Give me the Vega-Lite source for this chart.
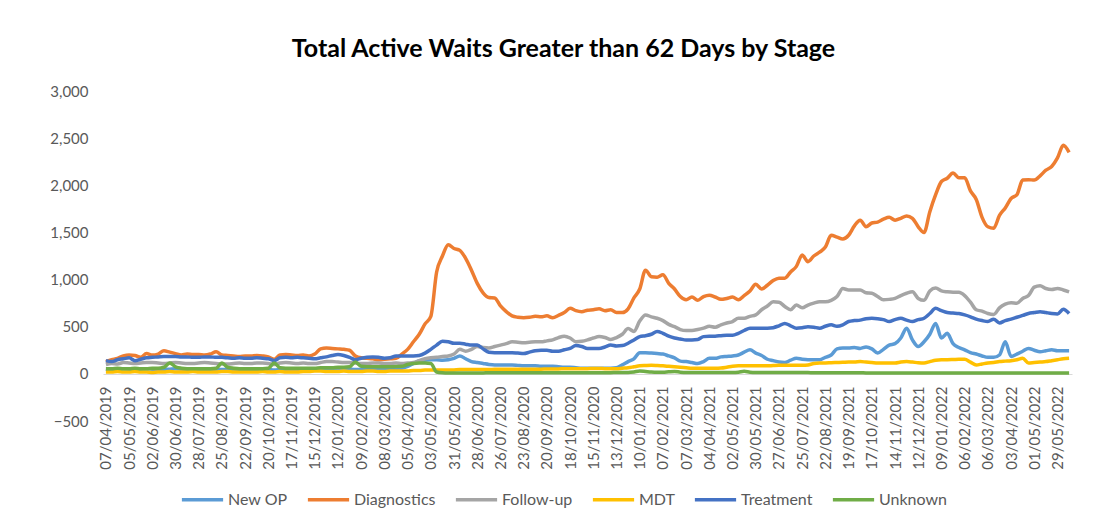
{
"$schema": "https://vega.github.io/schema/vega-lite/v6.json",
"width": 969, "height": 330,
"autosize": {"type": "none"},
"padding": {"left": 103, "top": 91, "right": 39, "bottom": 108},
"background": "white",
"title": {"text": "Total Active Waits Greater than 62 Days by Stage", "font": "Lato", "fontSize": 25, "fontWeight": "bold", "color": "#000000", "anchor": "middle", "offset": 22, "dx": -24},
"data": {"values": [
{"d":"07/04/2019","New OP":50,"Diagnostics":130,"Follow-up":100,"MDT":20,"Treatment":140,"Unknown":55},
{"d":"14/04/2019","New OP":45,"Diagnostics":150,"Follow-up":110,"MDT":20,"Treatment":130,"Unknown":55},
{"d":"21/04/2019","New OP":50,"Diagnostics":165,"Follow-up":105,"MDT":25,"Treatment":150,"Unknown":60},
{"d":"28/04/2019","New OP":55,"Diagnostics":190,"Follow-up":120,"MDT":20,"Treatment":160,"Unknown":55},
{"d":"05/05/2019","New OP":50,"Diagnostics":200,"Follow-up":115,"MDT":20,"Treatment":170,"Unknown":55},
{"d":"12/05/2019","New OP":45,"Diagnostics":195,"Follow-up":110,"MDT":25,"Treatment":140,"Unknown":60},
{"d":"19/05/2019","New OP":50,"Diagnostics":175,"Follow-up":115,"MDT":20,"Treatment":155,"Unknown":55},
{"d":"26/05/2019","New OP":55,"Diagnostics":215,"Follow-up":120,"MDT":20,"Treatment":170,"Unknown":55},
{"d":"02/06/2019","New OP":50,"Diagnostics":200,"Follow-up":120,"MDT":15,"Treatment":175,"Unknown":60},
{"d":"09/06/2019","New OP":45,"Diagnostics":210,"Follow-up":115,"MDT":20,"Treatment":180,"Unknown":60},
{"d":"16/06/2019","New OP":45,"Diagnostics":245,"Follow-up":110,"MDT":20,"Treatment":185,"Unknown":70},
{"d":"23/06/2019","New OP":50,"Diagnostics":230,"Follow-up":115,"MDT":25,"Treatment":185,"Unknown":115},
{"d":"30/06/2019","New OP":55,"Diagnostics":215,"Follow-up":120,"MDT":20,"Treatment":185,"Unknown":75},
{"d":"07/07/2019","New OP":50,"Diagnostics":200,"Follow-up":115,"MDT":20,"Treatment":180,"Unknown":60},
{"d":"14/07/2019","New OP":45,"Diagnostics":210,"Follow-up":110,"MDT":20,"Treatment":180,"Unknown":55},
{"d":"21/07/2019","New OP":45,"Diagnostics":205,"Follow-up":110,"MDT":25,"Treatment":175,"Unknown":55},
{"d":"28/07/2019","New OP":50,"Diagnostics":205,"Follow-up":115,"MDT":20,"Treatment":175,"Unknown":55},
{"d":"04/08/2019","New OP":50,"Diagnostics":200,"Follow-up":120,"MDT":20,"Treatment":180,"Unknown":55},
{"d":"11/08/2019","New OP":45,"Diagnostics":210,"Follow-up":115,"MDT":20,"Treatment":180,"Unknown":55},
{"d":"18/08/2019","New OP":45,"Diagnostics":235,"Follow-up":110,"MDT":20,"Treatment":175,"Unknown":60},
{"d":"25/08/2019","New OP":45,"Diagnostics":200,"Follow-up":105,"MDT":25,"Treatment":175,"Unknown":115},
{"d":"01/09/2019","New OP":50,"Diagnostics":195,"Follow-up":105,"MDT":25,"Treatment":170,"Unknown":70},
{"d":"08/09/2019","New OP":50,"Diagnostics":190,"Follow-up":110,"MDT":20,"Treatment":165,"Unknown":60},
{"d":"15/09/2019","New OP":45,"Diagnostics":185,"Follow-up":115,"MDT":20,"Treatment":170,"Unknown":55},
{"d":"22/09/2019","New OP":45,"Diagnostics":190,"Follow-up":110,"MDT":20,"Treatment":165,"Unknown":55},
{"d":"29/09/2019","New OP":50,"Diagnostics":190,"Follow-up":110,"MDT":20,"Treatment":165,"Unknown":55},
{"d":"06/10/2019","New OP":50,"Diagnostics":195,"Follow-up":115,"MDT":20,"Treatment":170,"Unknown":55},
{"d":"13/10/2019","New OP":45,"Diagnostics":190,"Follow-up":115,"MDT":25,"Treatment":165,"Unknown":55},
{"d":"20/10/2019","New OP":45,"Diagnostics":180,"Follow-up":110,"MDT":20,"Treatment":160,"Unknown":60},
{"d":"27/10/2019","New OP":40,"Diagnostics":155,"Follow-up":100,"MDT":20,"Treatment":140,"Unknown":115},
{"d":"03/11/2019","New OP":45,"Diagnostics":200,"Follow-up":115,"MDT":25,"Treatment":170,"Unknown":65},
{"d":"10/11/2019","New OP":50,"Diagnostics":205,"Follow-up":120,"MDT":20,"Treatment":175,"Unknown":60},
{"d":"17/11/2019","New OP":50,"Diagnostics":200,"Follow-up":115,"MDT":20,"Treatment":170,"Unknown":60},
{"d":"24/11/2019","New OP":45,"Diagnostics":195,"Follow-up":110,"MDT":20,"Treatment":175,"Unknown":60},
{"d":"01/12/2019","New OP":45,"Diagnostics":200,"Follow-up":115,"MDT":25,"Treatment":170,"Unknown":60},
{"d":"08/12/2019","New OP":50,"Diagnostics":190,"Follow-up":110,"MDT":25,"Treatment":165,"Unknown":60},
{"d":"15/12/2019","New OP":50,"Diagnostics":210,"Follow-up":110,"MDT":30,"Treatment":160,"Unknown":60},
{"d":"22/12/2019","New OP":55,"Diagnostics":265,"Follow-up":120,"MDT":30,"Treatment":170,"Unknown":65},
{"d":"29/12/2019","New OP":60,"Diagnostics":275,"Follow-up":130,"MDT":25,"Treatment":180,"Unknown":65},
{"d":"05/01/2020","New OP":60,"Diagnostics":270,"Follow-up":130,"MDT":25,"Treatment":195,"Unknown":65},
{"d":"12/01/2020","New OP":55,"Diagnostics":265,"Follow-up":125,"MDT":25,"Treatment":205,"Unknown":70},
{"d":"19/01/2020","New OP":55,"Diagnostics":260,"Follow-up":120,"MDT":30,"Treatment":195,"Unknown":70},
{"d":"26/01/2020","New OP":50,"Diagnostics":250,"Follow-up":120,"MDT":25,"Treatment":175,"Unknown":75},
{"d":"02/02/2020","New OP":45,"Diagnostics":190,"Follow-up":115,"MDT":25,"Treatment":150,"Unknown":125},
{"d":"09/02/2020","New OP":45,"Diagnostics":170,"Follow-up":110,"MDT":25,"Treatment":165,"Unknown":80},
{"d":"16/02/2020","New OP":50,"Diagnostics":165,"Follow-up":110,"MDT":30,"Treatment":175,"Unknown":75},
{"d":"23/02/2020","New OP":50,"Diagnostics":160,"Follow-up":115,"MDT":30,"Treatment":180,"Unknown":75},
{"d":"01/03/2020","New OP":45,"Diagnostics":150,"Follow-up":115,"MDT":25,"Treatment":175,"Unknown":75},
{"d":"08/03/2020","New OP":50,"Diagnostics":155,"Follow-up":110,"MDT":25,"Treatment":165,"Unknown":75},
{"d":"15/03/2020","New OP":55,"Diagnostics":160,"Follow-up":110,"MDT":30,"Treatment":170,"Unknown":75},
{"d":"22/03/2020","New OP":55,"Diagnostics":165,"Follow-up":115,"MDT":30,"Treatment":190,"Unknown":78},
{"d":"29/03/2020","New OP":60,"Diagnostics":210,"Follow-up":110,"MDT":30,"Treatment":190,"Unknown":80},
{"d":"05/04/2020","New OP":80,"Diagnostics":260,"Follow-up":115,"MDT":30,"Treatment":190,"Unknown":100},
{"d":"12/04/2020","New OP":110,"Diagnostics":340,"Follow-up":120,"MDT":35,"Treatment":190,"Unknown":110},
{"d":"19/04/2020","New OP":140,"Diagnostics":420,"Follow-up":140,"MDT":35,"Treatment":195,"Unknown":115},
{"d":"26/04/2020","New OP":145,"Diagnostics":530,"Follow-up":160,"MDT":40,"Treatment":220,"Unknown":115},
{"d":"03/05/2020","New OP":150,"Diagnostics":610,"Follow-up":170,"MDT":42,"Treatment":260,"Unknown":110},
{"d":"10/05/2020","New OP":150,"Diagnostics":1080,"Follow-up":175,"MDT":42,"Treatment":305,"Unknown":20},
{"d":"17/05/2020","New OP":145,"Diagnostics":1250,"Follow-up":185,"MDT":40,"Treatment":345,"Unknown":12},
{"d":"24/05/2020","New OP":150,"Diagnostics":1370,"Follow-up":190,"MDT":40,"Treatment":340,"Unknown":10},
{"d":"31/05/2020","New OP":165,"Diagnostics":1330,"Follow-up":210,"MDT":42,"Treatment":325,"Unknown":10},
{"d":"07/06/2020","New OP":190,"Diagnostics":1310,"Follow-up":260,"MDT":45,"Treatment":325,"Unknown":10},
{"d":"14/06/2020","New OP":160,"Diagnostics":1225,"Follow-up":240,"MDT":45,"Treatment":315,"Unknown":10},
{"d":"21/06/2020","New OP":130,"Diagnostics":1100,"Follow-up":260,"MDT":45,"Treatment":305,"Unknown":10},
{"d":"28/06/2020","New OP":120,"Diagnostics":960,"Follow-up":290,"MDT":45,"Treatment":305,"Unknown":10},
{"d":"05/07/2020","New OP":110,"Diagnostics":860,"Follow-up":280,"MDT":45,"Treatment":265,"Unknown":10},
{"d":"12/07/2020","New OP":100,"Diagnostics":810,"Follow-up":275,"MDT":45,"Treatment":230,"Unknown":12},
{"d":"19/07/2020","New OP":95,"Diagnostics":805,"Follow-up":290,"MDT":48,"Treatment":225,"Unknown":12},
{"d":"26/07/2020","New OP":95,"Diagnostics":720,"Follow-up":305,"MDT":48,"Treatment":225,"Unknown":12},
{"d":"02/08/2020","New OP":95,"Diagnostics":660,"Follow-up":320,"MDT":48,"Treatment":225,"Unknown":12},
{"d":"09/08/2020","New OP":95,"Diagnostics":615,"Follow-up":340,"MDT":50,"Treatment":225,"Unknown":12},
{"d":"16/08/2020","New OP":90,"Diagnostics":600,"Follow-up":335,"MDT":50,"Treatment":220,"Unknown":12},
{"d":"23/08/2020","New OP":85,"Diagnostics":595,"Follow-up":330,"MDT":50,"Treatment":215,"Unknown":12},
{"d":"30/08/2020","New OP":85,"Diagnostics":600,"Follow-up":335,"MDT":50,"Treatment":230,"Unknown":12},
{"d":"06/09/2020","New OP":85,"Diagnostics":610,"Follow-up":340,"MDT":50,"Treatment":245,"Unknown":12},
{"d":"13/09/2020","New OP":80,"Diagnostics":605,"Follow-up":340,"MDT":50,"Treatment":250,"Unknown":12},
{"d":"20/09/2020","New OP":80,"Diagnostics":615,"Follow-up":350,"MDT":52,"Treatment":250,"Unknown":12},
{"d":"27/09/2020","New OP":80,"Diagnostics":595,"Follow-up":360,"MDT":52,"Treatment":240,"Unknown":12},
{"d":"04/10/2020","New OP":75,"Diagnostics":620,"Follow-up":385,"MDT":52,"Treatment":240,"Unknown":12},
{"d":"11/10/2020","New OP":70,"Diagnostics":650,"Follow-up":400,"MDT":55,"Treatment":255,"Unknown":12},
{"d":"18/10/2020","New OP":70,"Diagnostics":695,"Follow-up":380,"MDT":55,"Treatment":270,"Unknown":12},
{"d":"25/10/2020","New OP":65,"Diagnostics":670,"Follow-up":340,"MDT":55,"Treatment":300,"Unknown":12},
{"d":"01/11/2020","New OP":60,"Diagnostics":660,"Follow-up":345,"MDT":55,"Treatment":290,"Unknown":12},
{"d":"08/11/2020","New OP":60,"Diagnostics":675,"Follow-up":360,"MDT":55,"Treatment":270,"Unknown":12},
{"d":"15/11/2020","New OP":60,"Diagnostics":680,"Follow-up":380,"MDT":58,"Treatment":270,"Unknown":12},
{"d":"22/11/2020","New OP":60,"Diagnostics":690,"Follow-up":395,"MDT":58,"Treatment":270,"Unknown":12},
{"d":"29/11/2020","New OP":60,"Diagnostics":670,"Follow-up":385,"MDT":55,"Treatment":285,"Unknown":12},
{"d":"06/12/2020","New OP":60,"Diagnostics":680,"Follow-up":365,"MDT":55,"Treatment":305,"Unknown":12},
{"d":"13/12/2020","New OP":65,"Diagnostics":650,"Follow-up":385,"MDT":55,"Treatment":295,"Unknown":15},
{"d":"20/12/2020","New OP":95,"Diagnostics":650,"Follow-up":420,"MDT":60,"Treatment":300,"Unknown":15},
{"d":"27/12/2020","New OP":130,"Diagnostics":690,"Follow-up":480,"MDT":65,"Treatment":325,"Unknown":15},
{"d":"03/01/2021","New OP":160,"Diagnostics":805,"Follow-up":450,"MDT":75,"Treatment":360,"Unknown":20},
{"d":"10/01/2021","New OP":225,"Diagnostics":900,"Follow-up":560,"MDT":85,"Treatment":395,"Unknown":30},
{"d":"17/01/2021","New OP":225,"Diagnostics":1100,"Follow-up":625,"MDT":88,"Treatment":405,"Unknown":25},
{"d":"24/01/2021","New OP":220,"Diagnostics":1030,"Follow-up":605,"MDT":90,"Treatment":420,"Unknown":20},
{"d":"31/01/2021","New OP":215,"Diagnostics":1025,"Follow-up":590,"MDT":88,"Treatment":450,"Unknown":18},
{"d":"07/02/2021","New OP":210,"Diagnostics":1050,"Follow-up":565,"MDT":85,"Treatment":430,"Unknown":18},
{"d":"14/02/2021","New OP":190,"Diagnostics":960,"Follow-up":525,"MDT":80,"Treatment":400,"Unknown":22},
{"d":"21/02/2021","New OP":170,"Diagnostics":900,"Follow-up":500,"MDT":75,"Treatment":380,"Unknown":25},
{"d":"28/02/2021","New OP":135,"Diagnostics":820,"Follow-up":470,"MDT":70,"Treatment":370,"Unknown":18},
{"d":"07/03/2021","New OP":130,"Diagnostics":785,"Follow-up":460,"MDT":65,"Treatment":360,"Unknown":15},
{"d":"14/03/2021","New OP":120,"Diagnostics":815,"Follow-up":460,"MDT":60,"Treatment":360,"Unknown":15},
{"d":"21/03/2021","New OP":110,"Diagnostics":780,"Follow-up":470,"MDT":60,"Treatment":365,"Unknown":15},
{"d":"28/03/2021","New OP":130,"Diagnostics":820,"Follow-up":485,"MDT":60,"Treatment":395,"Unknown":15},
{"d":"04/04/2021","New OP":165,"Diagnostics":835,"Follow-up":505,"MDT":60,"Treatment":400,"Unknown":15},
{"d":"11/04/2021","New OP":165,"Diagnostics":815,"Follow-up":495,"MDT":60,"Treatment":400,"Unknown":15},
{"d":"18/04/2021","New OP":180,"Diagnostics":790,"Follow-up":520,"MDT":62,"Treatment":405,"Unknown":15},
{"d":"25/04/2021","New OP":185,"Diagnostics":800,"Follow-up":540,"MDT":70,"Treatment":410,"Unknown":15},
{"d":"02/05/2021","New OP":190,"Diagnostics":815,"Follow-up":555,"MDT":80,"Treatment":410,"Unknown":15},
{"d":"09/05/2021","New OP":200,"Diagnostics":785,"Follow-up":590,"MDT":85,"Treatment":430,"Unknown":18},
{"d":"16/05/2021","New OP":230,"Diagnostics":830,"Follow-up":590,"MDT":85,"Treatment":460,"Unknown":28},
{"d":"23/05/2021","New OP":255,"Diagnostics":880,"Follow-up":610,"MDT":85,"Treatment":485,"Unknown":18},
{"d":"30/05/2021","New OP":220,"Diagnostics":950,"Follow-up":625,"MDT":85,"Treatment":485,"Unknown":15},
{"d":"06/06/2021","New OP":195,"Diagnostics":900,"Follow-up":680,"MDT":85,"Treatment":485,"Unknown":15},
{"d":"13/06/2021","New OP":155,"Diagnostics":940,"Follow-up":720,"MDT":85,"Treatment":485,"Unknown":15},
{"d":"20/06/2021","New OP":140,"Diagnostics":990,"Follow-up":765,"MDT":88,"Treatment":490,"Unknown":14},
{"d":"27/06/2021","New OP":125,"Diagnostics":1015,"Follow-up":760,"MDT":90,"Treatment":510,"Unknown":14},
{"d":"04/07/2021","New OP":120,"Diagnostics":1015,"Follow-up":715,"MDT":90,"Treatment":535,"Unknown":14},
{"d":"11/07/2021","New OP":145,"Diagnostics":1080,"Follow-up":680,"MDT":90,"Treatment":510,"Unknown":14},
{"d":"18/07/2021","New OP":165,"Diagnostics":1140,"Follow-up":730,"MDT":90,"Treatment":485,"Unknown":14},
{"d":"25/07/2021","New OP":155,"Diagnostics":1260,"Follow-up":700,"MDT":90,"Treatment":490,"Unknown":14},
{"d":"01/08/2021","New OP":150,"Diagnostics":1190,"Follow-up":730,"MDT":95,"Treatment":500,"Unknown":14},
{"d":"08/08/2021","New OP":150,"Diagnostics":1250,"Follow-up":750,"MDT":110,"Treatment":495,"Unknown":12},
{"d":"15/08/2021","New OP":150,"Diagnostics":1290,"Follow-up":765,"MDT":115,"Treatment":485,"Unknown":12},
{"d":"22/08/2021","New OP":175,"Diagnostics":1345,"Follow-up":765,"MDT":115,"Treatment":505,"Unknown":12},
{"d":"29/08/2021","New OP":200,"Diagnostics":1470,"Follow-up":780,"MDT":118,"Treatment":520,"Unknown":12},
{"d":"05/09/2021","New OP":265,"Diagnostics":1450,"Follow-up":820,"MDT":120,"Treatment":505,"Unknown":12},
{"d":"12/09/2021","New OP":275,"Diagnostics":1430,"Follow-up":905,"MDT":122,"Treatment":520,"Unknown":12},
{"d":"19/09/2021","New OP":275,"Diagnostics":1470,"Follow-up":890,"MDT":125,"Treatment":555,"Unknown":12},
{"d":"26/09/2021","New OP":280,"Diagnostics":1570,"Follow-up":890,"MDT":125,"Treatment":565,"Unknown":12},
{"d":"03/10/2021","New OP":270,"Diagnostics":1630,"Follow-up":890,"MDT":130,"Treatment":570,"Unknown":12},
{"d":"10/10/2021","New OP":285,"Diagnostics":1560,"Follow-up":860,"MDT":125,"Treatment":585,"Unknown":10},
{"d":"17/10/2021","New OP":265,"Diagnostics":1600,"Follow-up":855,"MDT":120,"Treatment":590,"Unknown":10},
{"d":"24/10/2021","New OP":220,"Diagnostics":1610,"Follow-up":820,"MDT":115,"Treatment":585,"Unknown":10},
{"d":"31/10/2021","New OP":260,"Diagnostics":1640,"Follow-up":785,"MDT":115,"Treatment":575,"Unknown":10},
{"d":"07/11/2021","New OP":305,"Diagnostics":1660,"Follow-up":790,"MDT":115,"Treatment":555,"Unknown":10},
{"d":"14/11/2021","New OP":320,"Diagnostics":1630,"Follow-up":800,"MDT":115,"Treatment":575,"Unknown":10},
{"d":"21/11/2021","New OP":380,"Diagnostics":1650,"Follow-up":830,"MDT":125,"Treatment":590,"Unknown":10},
{"d":"28/11/2021","New OP":485,"Diagnostics":1675,"Follow-up":855,"MDT":130,"Treatment":570,"Unknown":10},
{"d":"05/12/2021","New OP":360,"Diagnostics":1650,"Follow-up":870,"MDT":125,"Treatment":555,"Unknown":10},
{"d":"12/12/2021","New OP":290,"Diagnostics":1560,"Follow-up":800,"MDT":118,"Treatment":575,"Unknown":10},
{"d":"19/12/2021","New OP":340,"Diagnostics":1500,"Follow-up":780,"MDT":115,"Treatment":590,"Unknown":10},
{"d":"26/12/2021","New OP":420,"Diagnostics":1720,"Follow-up":880,"MDT":130,"Treatment":640,"Unknown":10},
{"d":"02/01/2022","New OP":535,"Diagnostics":1900,"Follow-up":910,"MDT":145,"Treatment":695,"Unknown":10},
{"d":"09/01/2022","New OP":380,"Diagnostics":2040,"Follow-up":880,"MDT":150,"Treatment":670,"Unknown":10},
{"d":"16/01/2022","New OP":430,"Diagnostics":2075,"Follow-up":870,"MDT":150,"Treatment":650,"Unknown":10},
{"d":"23/01/2022","New OP":320,"Diagnostics":2130,"Follow-up":865,"MDT":152,"Treatment":645,"Unknown":8},
{"d":"30/01/2022","New OP":280,"Diagnostics":2080,"Follow-up":865,"MDT":155,"Treatment":640,"Unknown":8},
{"d":"06/02/2022","New OP":255,"Diagnostics":2080,"Follow-up":830,"MDT":155,"Treatment":625,"Unknown":8},
{"d":"13/02/2022","New OP":225,"Diagnostics":1940,"Follow-up":760,"MDT":125,"Treatment":605,"Unknown":8},
{"d":"20/02/2022","New OP":210,"Diagnostics":1850,"Follow-up":680,"MDT":95,"Treatment":580,"Unknown":8},
{"d":"27/02/2022","New OP":190,"Diagnostics":1660,"Follow-up":665,"MDT":105,"Treatment":565,"Unknown":8},
{"d":"06/03/2022","New OP":175,"Diagnostics":1560,"Follow-up":640,"MDT":115,"Treatment":555,"Unknown":8},
{"d":"13/03/2022","New OP":175,"Diagnostics":1545,"Follow-up":630,"MDT":120,"Treatment":580,"Unknown":8},
{"d":"20/03/2022","New OP":200,"Diagnostics":1680,"Follow-up":700,"MDT":130,"Treatment":540,"Unknown":8},
{"d":"27/03/2022","New OP":340,"Diagnostics":1760,"Follow-up":740,"MDT":135,"Treatment":565,"Unknown":8},
{"d":"03/04/2022","New OP":185,"Diagnostics":1860,"Follow-up":755,"MDT":140,"Treatment":580,"Unknown":8},
{"d":"10/04/2022","New OP":210,"Diagnostics":1900,"Follow-up":750,"MDT":150,"Treatment":600,"Unknown":8},
{"d":"17/04/2022","New OP":240,"Diagnostics":2055,"Follow-up":800,"MDT":165,"Treatment":620,"Unknown":8},
{"d":"24/04/2022","New OP":270,"Diagnostics":2060,"Follow-up":830,"MDT":115,"Treatment":640,"Unknown":8},
{"d":"01/05/2022","New OP":250,"Diagnostics":2055,"Follow-up":920,"MDT":120,"Treatment":650,"Unknown":8},
{"d":"08/05/2022","New OP":235,"Diagnostics":2100,"Follow-up":935,"MDT":125,"Treatment":660,"Unknown":8},
{"d":"15/05/2022","New OP":245,"Diagnostics":2160,"Follow-up":905,"MDT":130,"Treatment":650,"Unknown":8},
{"d":"22/05/2022","New OP":255,"Diagnostics":2200,"Follow-up":895,"MDT":140,"Treatment":640,"Unknown":8},
{"d":"29/05/2022","New OP":245,"Diagnostics":2290,"Follow-up":905,"MDT":150,"Treatment":635,"Unknown":8},
{"d":"05/06/2022","New OP":245,"Diagnostics":2425,"Follow-up":890,"MDT":160,"Treatment":685,"Unknown":8},
{"d":"12/06/2022","New OP":245,"Diagnostics":2350,"Follow-up":870,"MDT":165,"Treatment":640,"Unknown":8}
]},
"transform": [{"fold": ["New OP", "Diagnostics", "Follow-up", "MDT", "Treatment", "Unknown"], "as": ["Stage", "Value"]}],
"mark": {"type": "line", "strokeWidth": 3.5, "interpolate": "monotone"},
"encoding": {
  "x": {"field": "d", "type": "ordinal", "sort": null, "scale": {"type": "point", "padding": 0.5},
    "axis": {"title": null, "offset": -47, "domain": true, "domainColor": "#d9d9d9", "ticks": false, "labelPadding": 12, "labelAngle": -90, "labelFont": "Lato", "labelFontSize": 15, "labelColor": "#595959", "labelOverlap": false,
      "values": ["07/04/2019","05/05/2019","02/06/2019","30/06/2019","28/07/2019","25/08/2019","22/09/2019","20/10/2019","17/11/2019","15/12/2019","12/01/2020","09/02/2020","08/03/2020","05/04/2020","03/05/2020","31/05/2020","28/06/2020","26/07/2020","23/08/2020","20/09/2020","18/10/2020","15/11/2020","13/12/2020","10/01/2021","07/02/2021","07/03/2021","04/04/2021","02/05/2021","30/05/2021","27/06/2021","25/07/2021","22/08/2021","19/09/2021","17/10/2021","14/11/2021","12/12/2021","09/01/2022","06/02/2022","06/03/2022","03/04/2022","01/05/2022","29/05/2022"]}},
  "y": {"field": "Value", "type": "quantitative", "scale": {"domain": [-500, 3000], "nice": false, "zero": false},
    "axis": {"title": null, "values": [-500, 0, 500, 1000, 1500, 2000, 2500, 3000], "format": ",d", "domain": false, "ticks": false, "grid": false, "labelPadding": 15, "labelFont": "Lato", "labelFontSize": 15, "labelColor": "#595959"}},
  "color": {"field": "Stage", "type": "nominal",
    "scale": {"domain": ["New OP", "Diagnostics", "Follow-up", "MDT", "Treatment", "Unknown"], "range": ["#5B9BD5", "#ED7D31", "#A5A5A5", "#FFC000", "#4472C4", "#70AD47"]},
    "legend": {"title": null, "orient": "none", "legendX": 77, "legendY": 386, "direction": "horizontal", "symbolType": "stroke", "symbolSize": 1700, "symbolStrokeWidth": 3.5, "labelFont": "Lato", "labelFontSize": 16, "labelColor": "#595959", "labelOffset": 3, "columnPadding": 12}}
},
"config": {"view": {"stroke": null}, "font": "Lato"}
}
